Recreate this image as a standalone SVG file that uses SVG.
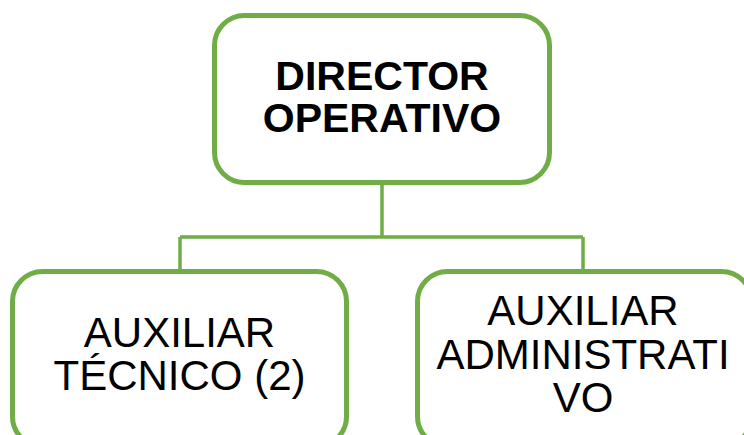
<svg xmlns="http://www.w3.org/2000/svg" width="744" height="435" viewBox="0 0 744 435">
<style>
.box{fill:#fff;stroke:#70AD47;stroke-width:5}
.conn{fill:none;stroke:#70AD47;stroke-width:3.5}
.t{font-family:"Liberation Sans",Arial,sans-serif;fill:#000;text-anchor:middle}
.b{font-weight:bold;font-size:41px}
.r{font-size:42px}
</style>
<rect width="744" height="435" fill="#fff"/>
<g id="connectors">
<path class="conn" d="M382 184V237M180 237H583M180 237V270M583 237V270"/>
</g>
<g id="director">
<rect class="box" x="214.5" y="15.5" width="335" height="167" rx="30"/>
<text class="t b" x="382" y="90">DIRECTOR</text>
<text class="t b" x="382" y="131.5">OPERATIVO</text>
</g>
<g id="tecnico">
<rect class="box" x="12.5" y="271.5" width="334" height="175" rx="30"/>
<text class="t r" x="179.5" y="346.5">AUXILIAR</text>
<text class="t r" x="179.5" y="390">TÉCNICO (2)</text>
</g>
<g id="administrativo">
<rect class="box" x="417.5" y="271.5" width="334" height="175" rx="30"/>
<text class="t r" x="583" y="325">AUXILIAR</text>
<text class="t r" x="583" y="368.5">ADMINISTRATI</text>
<text class="t r" x="583" y="411.5">VO</text>
</g>
</svg>
